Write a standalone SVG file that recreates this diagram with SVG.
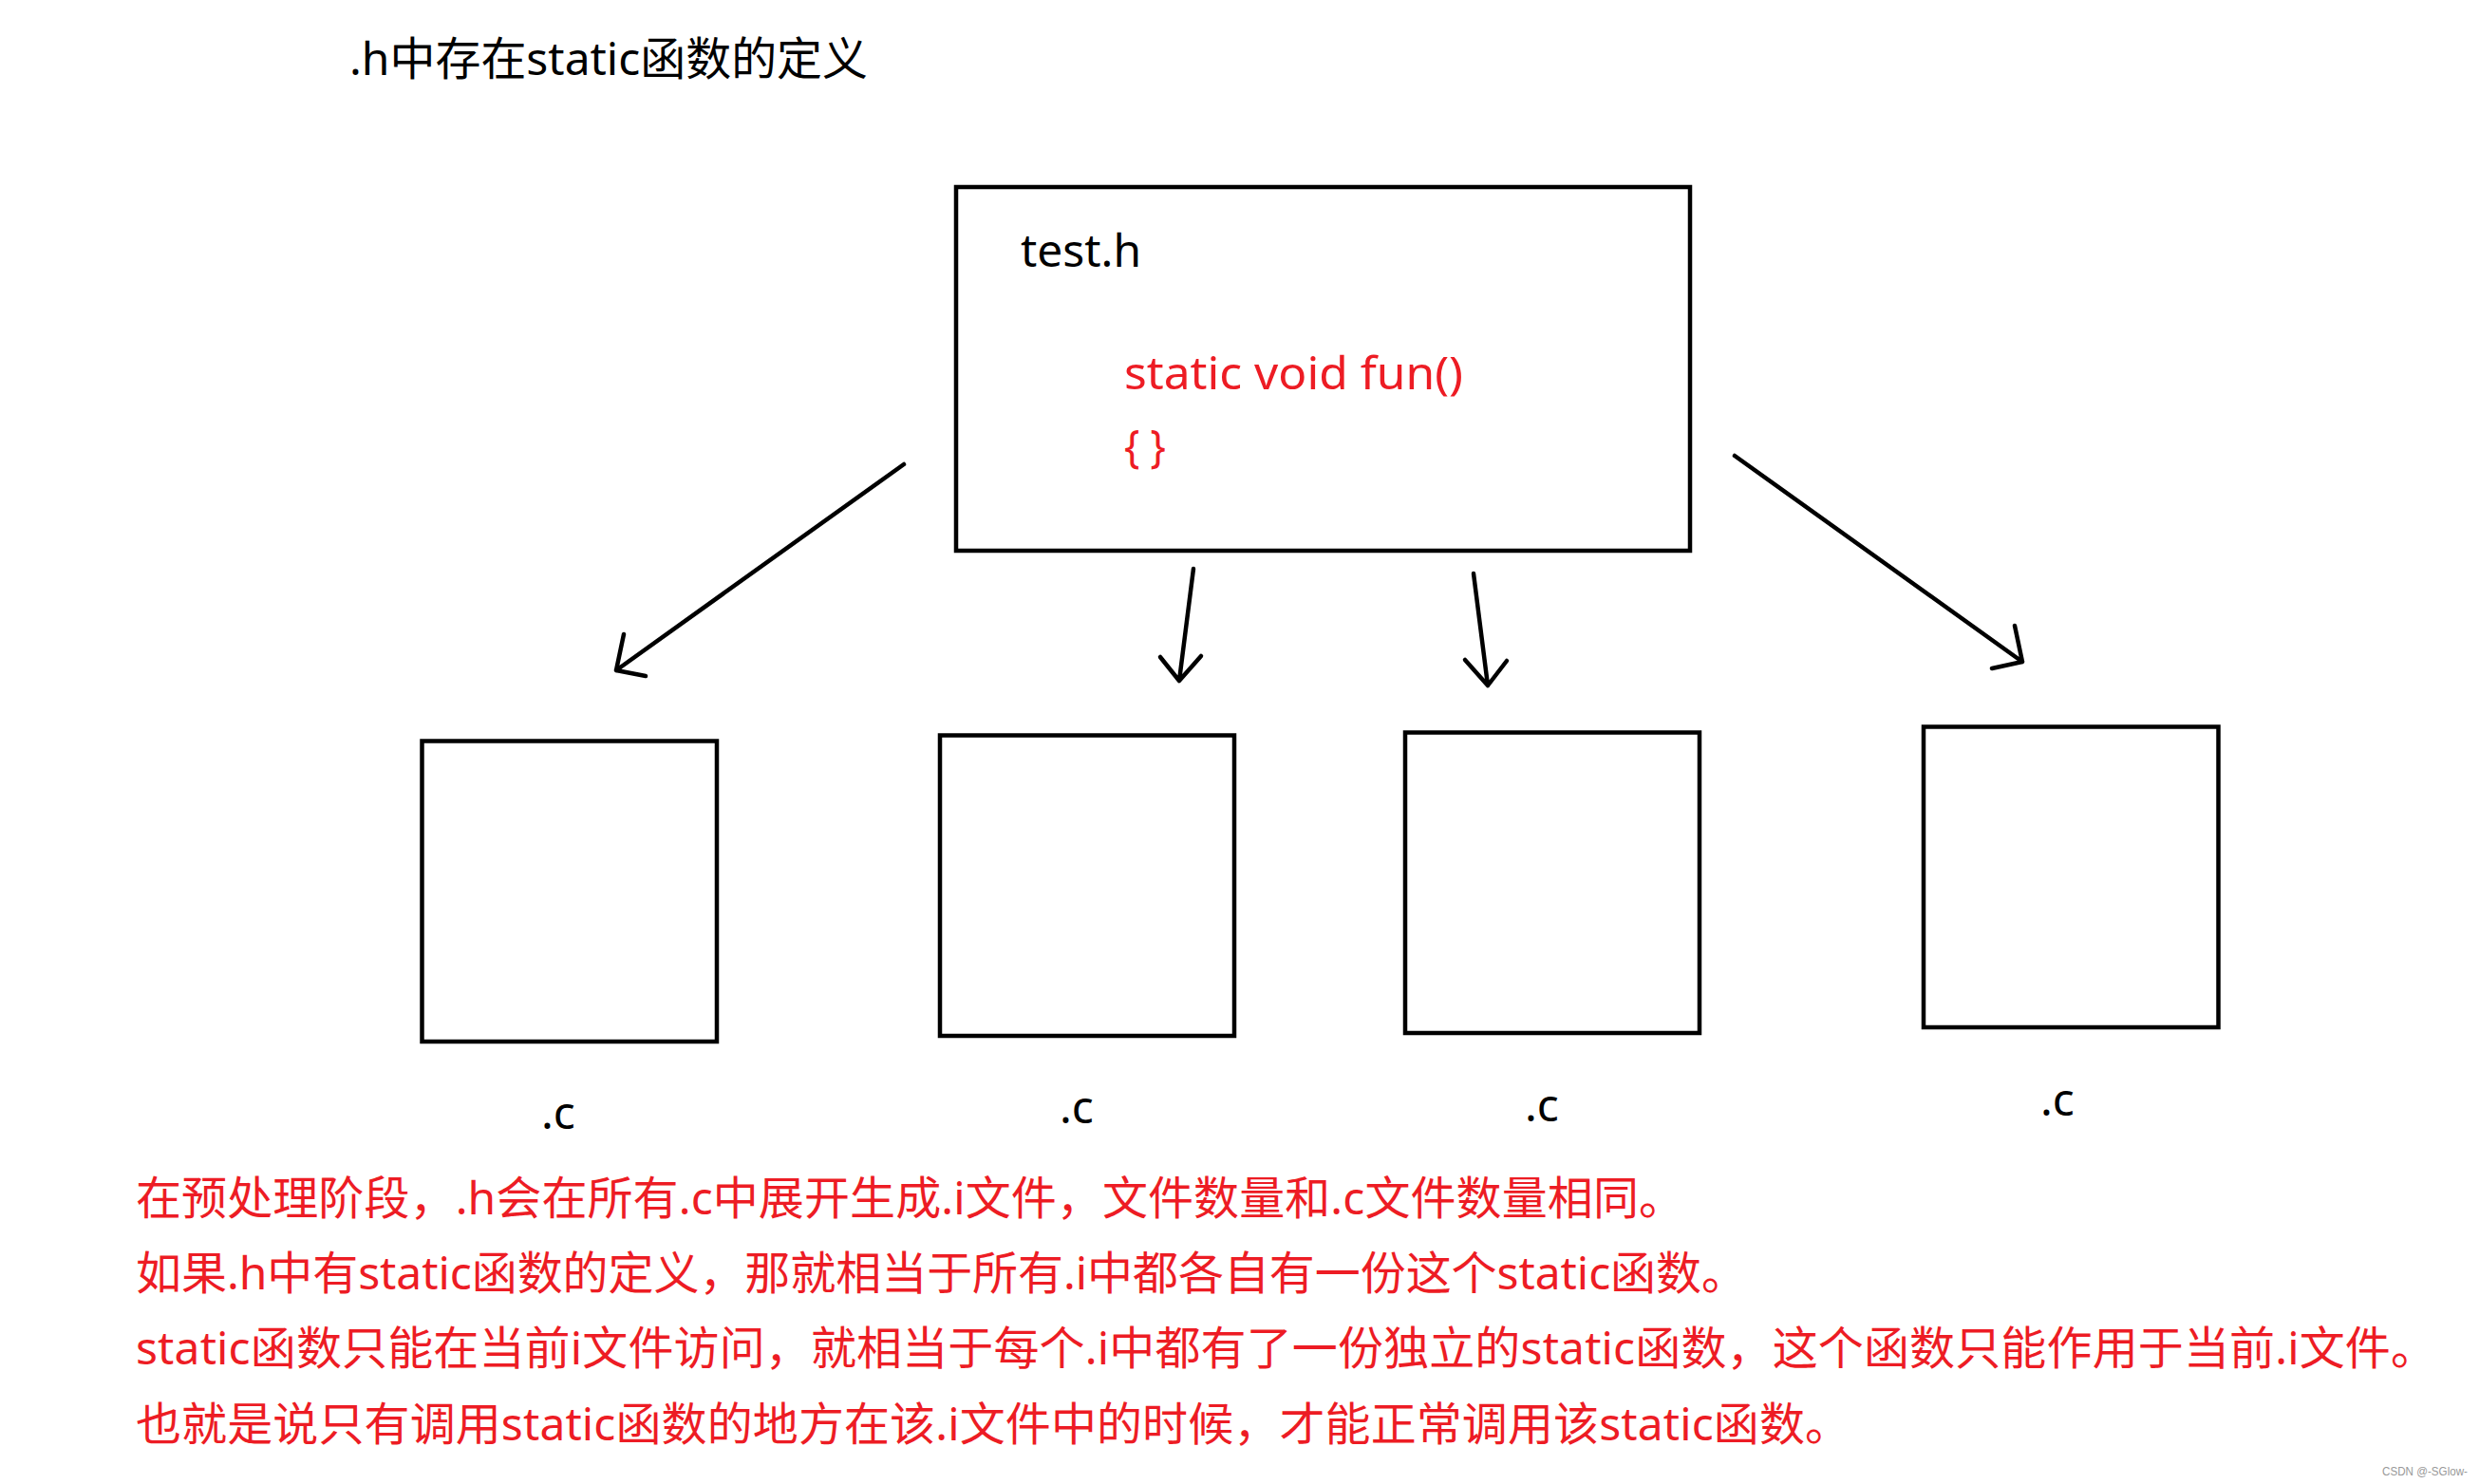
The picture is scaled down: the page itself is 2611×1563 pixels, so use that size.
<svg xmlns="http://www.w3.org/2000/svg" width="2611" height="1563" viewBox="0 0 2611 1563">
<style>
.box{fill:none;stroke:#000;stroke-width:4.5}
.lbl{font-family:"Noto Sans","Noto Sans CJK SC",sans-serif;font-size:48px;fill:#000}
.red{font-family:"Noto Sans","Noto Sans CJK SC",sans-serif;font-size:48px;fill:#ED1C24}
.conn{fill:none;stroke:#000;stroke-width:4.5;stroke-linecap:round;stroke-linejoin:round}
</style>
<rect width="2611" height="1563" fill="#fff"/>
<text id="title" class="lbl" x="368" y="79" textLength="546" lengthAdjust="spacingAndGlyphs">.h中存在static函数的定义</text>
<g id="test_h">
<rect class="box" x="1007" y="197" width="773" height="383"/>
<text class="lbl" x="1075" y="281" textLength="127" lengthAdjust="spacingAndGlyphs">test.h</text>
<text class="red" x="1184" y="410" textLength="357" lengthAdjust="spacingAndGlyphs">static void fun()</text>
<text class="red" x="1184" y="487" textLength="44" lengthAdjust="spacingAndGlyphs">{ }</text>
</g>
<g id="c1">
<rect class="box" x="444.5" y="780.5" width="310.5" height="316.5"/>
<text class="lbl" x="570" y="1189">.c</text>
</g>
<g id="c2">
<rect class="box" x="990" y="774.5" width="310" height="316.5"/>
<text class="lbl" x="1116" y="1183">.c</text>
</g>
<g id="c3">
<rect class="box" x="1480" y="771.5" width="310" height="316.5"/>
<text class="lbl" x="1606" y="1181">.c</text>
</g>
<g id="c4">
<rect class="box" x="2026" y="765.5" width="310.5" height="316.5"/>
<text class="lbl" x="2149" y="1175">.c</text>
</g>
<g id="connectors">
<path class="conn" d="M952 489 L649 706 M657 668 L649 706 L680 712"/>
<path class="conn" d="M1257 599 L1242 717 M1222 692 L1242 717 L1265 691"/>
<path class="conn" d="M1552 604 L1567 722 M1543 695 L1567 722 L1587 696"/>
<path class="conn" d="M1827 480 L2130 697 M2122 659 L2130 697 L2098 704"/>
</g>
<g id="notes">
<text class="red" x="143" y="1279" textLength="1631" lengthAdjust="spacing">在预处理阶段，.h会在所有.c中展开生成.i文件，文件数量和.c文件数量相同。</text>
<text class="red" x="143" y="1358" textLength="1697" lengthAdjust="spacing">如果.h中有static函数的定义，那就相当于所有.i中都各自有一份这个static函数。</text>
<text class="red" x="143" y="1437" textLength="2423" lengthAdjust="spacing">static函数只能在当前i文件访问，就相当于每个.i中都有了一份独立的static函数，这个函数只能作用于当前.i文件。</text>
<text class="red" x="143" y="1517" textLength="1806" lengthAdjust="spacing">也就是说只有调用static函数的地方在该.i文件中的时候，才能正常调用该static函数。</text>
</g>
<text id="watermark" x="2509" y="1554" font-family="'Liberation Sans',sans-serif" font-size="12" fill="#999" textLength="90" lengthAdjust="spacingAndGlyphs">CSDN @-SGlow-</text>
</svg>
